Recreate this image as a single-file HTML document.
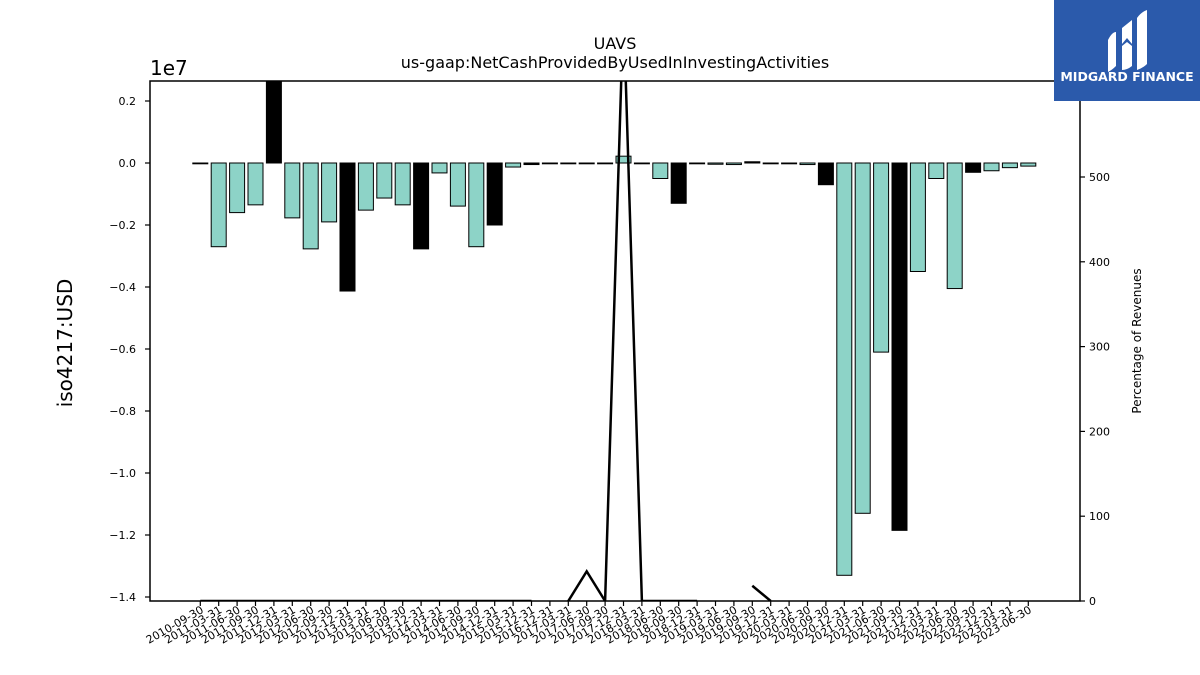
<!DOCTYPE html>
<html><head><meta charset="utf-8"><style>
html,body{margin:0;padding:0;background:#fff;}
svg{display:block;font-family:"DejaVu Sans","Liberation Sans",sans-serif;}
</style></head><body>
<svg id="chart" width="1200" height="675" viewBox="0 0 1200 675" xmlns="http://www.w3.org/2000/svg">
<text x="615" y="49" text-anchor="middle" font-size="16">UAVS</text>
<text x="615" y="68" text-anchor="middle" font-size="16">us-gaap:NetCashProvidedByUsedInInvestingActivities</text>
<text x="150" y="75" font-size="20">1e7</text>
<text transform="translate(72,343) rotate(-90)" text-anchor="middle" font-size="20">iso4217:USD</text>
<text transform="translate(1141,341) rotate(-90)" text-anchor="middle" font-size="12">Percentage of Revenues</text>
<defs><clipPath id="plotclip"><rect x="150" y="81" width="930" height="520"/></clipPath></defs>
<g id="bars" clip-path="url(#plotclip)"></g>
<g id="line" clip-path="url(#plotclip)"></g>
<rect x="150" y="81" width="930" height="520" fill="none" stroke="#000" stroke-width="1.5"/>
<g id="axes"></g>
<g>
<rect x="1054" y="0" width="146" height="101" fill="#2b5aab"/>
<path d="M1108 40 q4 -8 8 -8 v34 q-4 4 -8 6z M1122 28 l10 -8 v24 l-5 -6 l-5 6z M1137 18 q4 -6 10 -8 v54 q-4 4 -10 6z M1122 46 l5 -4 l5 4 v20 q-5 4 -10 4z" fill="#fff"/>
<text x="1127" y="81" text-anchor="middle" font-size="12.5" font-weight="bold" fill="#fff">MIDGARD FINANCE</text>
</g>
</svg>
<script>
const categories=["2010-09-30","2011-03-31","2011-06-30","2011-09-30","2011-12-31","2012-03-31","2012-06-30","2012-09-30","2012-12-31","2013-03-31","2013-06-30","2013-09-30","2013-12-31","2014-03-31","2014-06-30","2014-09-30","2014-12-31","2015-03-31","2015-12-31","2016-12-31","2017-03-31","2017-06-30","2017-09-30","2017-12-31","2018-03-31","2018-06-30","2018-09-30","2018-12-31","2019-03-31","2019-06-30","2019-09-30","2019-12-31","2020-03-31","2020-06-30","2020-09-30","2020-12-31","2021-03-31","2021-06-30","2021-09-30","2021-12-31","2022-03-31","2022-06-30","2022-09-30","2022-12-31","2023-03-31","2023-06-30","2023-09-30"].slice(0,46);
const cashValues=[-0.002,-0.27,-0.16,-0.135,0.5,-0.177,-0.277,-0.19,-0.413,-0.152,-0.113,-0.135,-0.277,-0.032,-0.139,-0.27,-0.2,-0.013,-0.005,-0.002,-0.002,-0.002,-0.002,0.022,-0.002,-0.05,-0.13,-0.002,-0.004,-0.005,0.004,-0.002,-0.002,-0.005,-0.07,-1.33,-1.13,-0.61,-1.185,-0.35,-0.05,-0.405,-0.03,-0.025,-0.015,-0.01];
const annualFlags=[0,0,0,0,1,0,0,0,1,0,0,0,1,0,0,0,1,0,1,1,1,0,0,0,0,0,1,0,0,0,1,0,0,0,1,0,0,0,1,0,0,0,1,0,0,0];
const pctRevenue=[0,0,0,0,0,0,0,0,0,0,0,0,0,0,0,0,0,0,0,null,0,35,0,700,0,0,0,0,null,null,18,0,null,null,null,null,null,null,null,null,null,null,null,null,null,null];
const yTicks=[0.2,0.0,-0.2,-0.4,-0.6,-0.8,-1.0,-1.2,-1.4];
const y2Ticks=[0,100,200,300,400,500];
const NS="http://www.w3.org/2000/svg";
const xS=i=>200.3+i*18.4;
const yS=v=>163-v*310;
const y2S=v=>601-v*0.848;
function mk(tag,attrs,parent){const e=document.createElementNS(NS,tag);for(const k in attrs)e.setAttribute(k,attrs[k]);parent.appendChild(e);return e;}
const bars=document.getElementById('bars'),line=document.getElementById('line'),axes=document.getElementById('axes');
cashValues.forEach((v,i)=>{
 const y0=yS(0),y1=yS(v);
 const r=mk('rect',{x:xS(i)-7.5,y:Math.min(y0,y1),width:15,height:Math.max(Math.abs(y1-y0),0.8),fill:annualFlags[i]?'#000':'#8dd3c7',stroke:'#000','stroke-width':1},bars);
 
 
});
let d='',pen=false;
pctRevenue.forEach((v,i)=>{if(v===null){pen=false;return;}d+=(pen?'L':'M')+xS(i)+' '+y2S(v)+' ';pen=true;});
const p=mk('path',{d:d,fill:'none',stroke:'#000','stroke-width':2.5},line);


yTicks.forEach(t=>{
 const y=yS(t);
 mk('line',{x1:145,x2:150,y1:y,y2:y,stroke:'#000','stroke-width':1.2},axes);
 const tx=mk('text',{x:136,y:y+4,'text-anchor':'end','font-size':11},axes);
 tx.textContent=(t<0?'\u2212':'')+Math.abs(t).toFixed(1);
 
 
});
y2Ticks.forEach(t=>{
 const y=y2S(t);
 mk('line',{x1:1080,x2:1085,y1:y,y2:y,stroke:'#000','stroke-width':1.2},axes);
 const tx=mk('text',{x:1089,y:y+4,'font-size':11},axes);
 tx.textContent=t;
 
 
});
categories.forEach((c,i)=>{
 const x=xS(i);
 mk('line',{x1:x,x2:x,y1:601,y2:606,stroke:'#000','stroke-width':1.2},axes);
 const tx=mk('text',{transform:'translate('+(x+4)+',612) rotate(-30)','text-anchor':'end','font-size':11},axes);
 tx.textContent=c;
 
 
});
</script>
</body></html>
